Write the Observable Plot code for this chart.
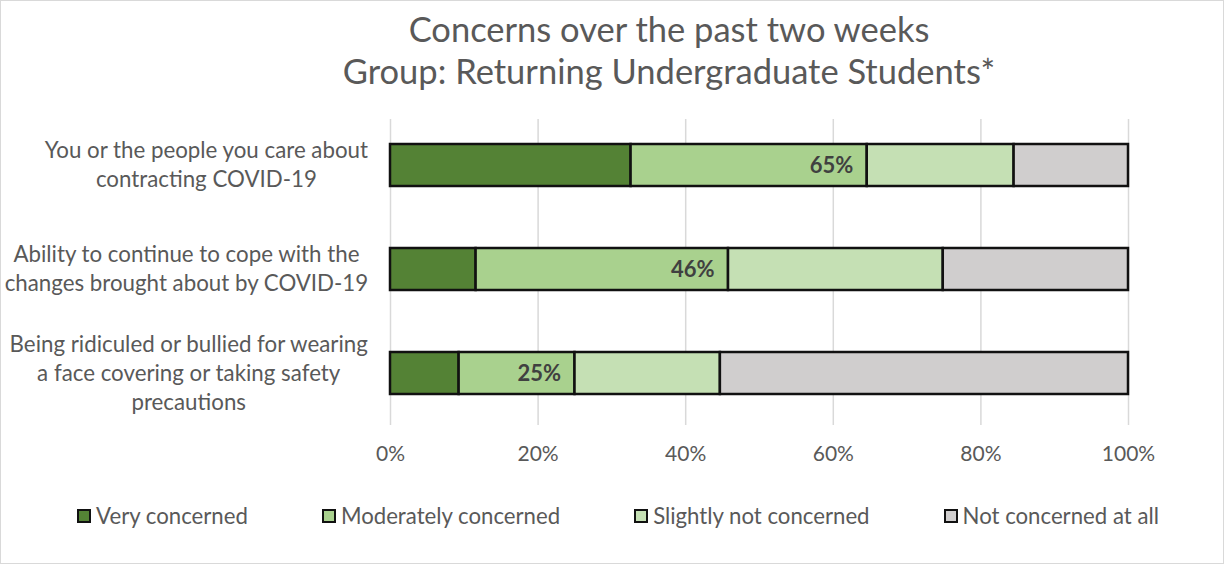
<!DOCTYPE html>
<html>
<head>
<meta charset="utf-8">
<script src="https://cdn.jsdelivr.net/npm/d3@7"></script>
<script src="https://cdn.jsdelivr.net/npm/@observablehq/plot@0.6"></script>
<style>
  html, body { margin: 0; padding: 0; background: #fff; }
  #chart { position: relative; width: 1222px; height: 562px; border: 1px solid #d9d9d9; background: #fff; font-family: Lato, "Open Sans", sans-serif; color: #595959; overflow: hidden; }
  #title { position: absolute; top: 7px; left: 114px; right: 0; text-align: center; font-size: 34.5px; line-height: 42px; color: #595959; }
  #plot { position: absolute; top: 105px; left: 0; }
  #legend { position: absolute; top: 501px; left: 0; right: 0; display: flex; justify-content: center; padding-left: 12px; gap: 74px; font-size: 22.2px; color: #595959; }
  .item { display: flex; align-items: center; gap: 5px; }
  .sw { width: 10px; height: 10px; border: 2px solid #111; }
</style>
</head>
<body>
<div id="chart">
  <div id="title"></div>
  <div id="plot"></div>
  <div id="legend"></div>
</div>
<script>
const titleLines = ["Concerns over the past two weeks", "Group: Returning Undergraduate Students*"];
const categories = [
  "You or the people you care about\ncontracting COVID-19",
  "Ability to continue to cope with the\nchanges brought about by COVID-19",
  "Being ridiculed or bullied for wearing\na face covering or taking safety\nprecautions"
];
const levels = ["Very concerned", "Moderately concerned", "Slightly not concerned", "Not concerned at all"];
const veryConcerned = [32.6, 11.6, 9.3];
const moderatelyConcerned = [32.0, 34.2, 15.7];
const slightlyNotConcerned = [19.9, 29.1, 19.7];
const notConcernedAtAll = [15.5, 25.1, 55.3];
const colors = ["#548235", "#A9D18E", "#C5E0B4", "#D0CECE"];
const xTicks = [0, 20, 40, 60, 80, 100];

const series = [veryConcerned, moderatelyConcerned, slightlyNotConcerned, notConcernedAtAll];
const rows = [];
categories.forEach((c, i) => levels.forEach((l, j) => rows.push({category: c, level: l, value: series[j][i]})));
const labelRows = categories.map((c, i) => ({category: c, total: veryConcerned[i] + moderatelyConcerned[i]}));

document.getElementById("title").innerHTML = titleLines.map(t => `<div>${t}</div>`).join("");

const labelFont = 22.3;
const fontFamily = "Lato";
const ctx = document.createElement("canvas").getContext("2d");
ctx.font = `${labelFont}px ${fontFamily}`;
const labelWidth = c => Math.max(...c.split("\n").map(s => ctx.measureText(s).width));

const W = 1222, H = 370;
const yLabelMarks = categories.map(c => Plot.text([c], {
  y: d => d, frameAnchor: "left", textAnchor: "middle", lineAnchor: "middle",
  dx: -(22 + labelWidth(c) / 2), dy: -2, fontSize: labelFont, lineHeight: 1.3, fill: "#595959", text: d => d
}));

const chart = Plot.plot({
  width: W, height: H,
  marginLeft: 389, marginRight: 95, marginTop: 13, marginBottom: 51,
  style: {fontFamily: fontFamily, background: "transparent", overflow: "visible"},
  x: {domain: [0, 100], ticks: xTicks},
  y: {domain: categories, range: [37.7, 288], paddingInner: 0.596, paddingOuter: 0, axis: null},
  color: {domain: levels, range: colors},
  marks: [
    Plot.gridX(xTicks, {stroke: "#d9d9d9", strokeOpacity: 1, strokeWidth: 1.5}),
    Plot.axisX({ticks: xTicks, tickFormat: d => d + "%", tickSize: 0, tickPadding: 21, fontSize: 21, fill: "#595959", label: null}),
    Plot.barX(rows, {x: "value", y: "category", fill: "level", stroke: "#111", strokeWidth: 2.5, order: null}),
    Plot.text(labelRows, {x: "total", y: "category", text: d => Math.round(d.total) + "%", textAnchor: "end", dx: -14, fontWeight: "bold", fontSize: 22, fill: "#404040"}),
    ...yLabelMarks
  ]
});
document.getElementById("plot").appendChild(chart);

document.getElementById("legend").innerHTML = levels.map((l, i) =>
  `<div class="item"><div class="sw" style="background:${colors[i]}"></div><span>${l}</span></div>`).join("");
</script>
</body>
</html>
